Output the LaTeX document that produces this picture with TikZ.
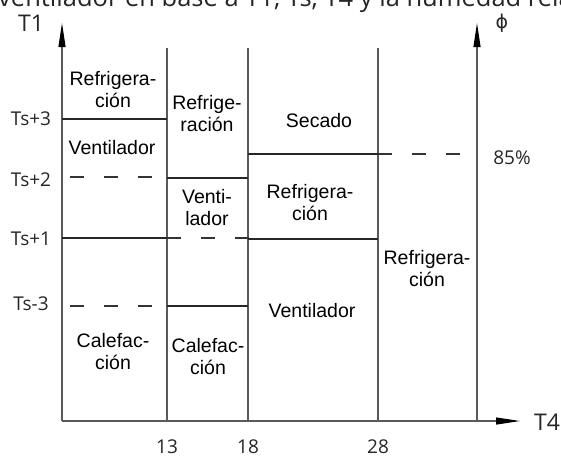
\documentclass[tikz,border=0pt]{standalone}
\usepackage{fontspec}
\setmainfont{Liberation Sans}
\newfontfamily\ejefont{Open Sans}
\newfontfamily\simbfont{DejaVu Sans}
\usetikzlibrary{arrows.meta}
\tikzset{
	zona/.style={align=center, inner sep=0pt, font=\fontsize{19.5}{22}\selectfont},
	eje/.style={inner sep=0pt, text=black!85, font=\ejefont\fontsize{19}{22}\selectfont},
	linea/.style={line width=1.1pt, draw=black!65},
	raya/.style={line width=1.1pt, draw=black!80, dash pattern=on 14pt off 20pt},
	flecha/.style={-{Triangle[length=24pt,width=7pt,black]}}
}
\begin{document}
\begin{tikzpicture}[x=1pt, y=-1pt]
		\useasboundingbox (0,0) rectangle (561,456);
		% Titel (abgeschnitten)
		\node [anchor=base west, inner sep=0pt, text=black!85, font=\ejefont\fontsize{25.5}{28}\selectfont] (titel) at (-2,6) {ventilador en base a T1, Ts, T4 y la humedad relativa};
		% Achsen
		\coordinate (ursprung) at (62,421);
		\coordinate (obenT) at (62,23);
		\coordinate (rechtsT) at (520,421);
		\coordinate (untenH) at (477,421);
		\coordinate (obenH) at (477,23);
		\draw [linea, flecha] (ursprung) -- (obenT);
		\draw [linea, flecha] (ursprung) -- (rechtsT);
		\draw [linea, flecha] (untenH) -- (obenH);
		\node [eje, font=\ejefont\fontsize{23}{26}\selectfont] (T1) at (31,23) {T1};
		\node [eje, font=\ejefont\fontsize{23}{26}\selectfont] (T4) at (547,422) {T4};
		\node [eje, font=\simbfont\fontsize{19}{22}\selectfont] (phi) at (502,23) {ϕ};
		% Spalten
		\draw [linea] (167,48) -- (167,421);
		\draw [linea] (248,48) -- (248,421);
		\draw [linea] (378,48) -- (378,421);
		\node [eje] (x13) at (167,447) {13};
		\node [eje] (x18) at (248,447) {18};
		\node [eje] (x28) at (378,447) {28};
		% Grenzen T1
		\node [eje] (ts3) at (31,119) {Ts+3};
		\node [eje] (ts2) at (31,180) {Ts+2};
		\node [eje] (ts1) at (31,239) {Ts+1};
		\node [eje] (tsm3) at (31,304) {Ts-3};
		\node [eje] (h85) at (512,158) {85\%};
		% Linien
		\draw [linea, draw=black!85] (62,119) -- (167,119);
		\draw [raya] (70,177) -- (152,177);
		\draw [linea, draw=black!85] (62,238) -- (167,238);
		\draw [raya] (70,306) -- (152,306);
		\draw [linea, draw=black!85] (167,178) -- (248,178);
		\draw [raya] (167,238) -- (249,238);
		\draw [linea, draw=black!85] (167,306) -- (248,306);
		\draw [linea, draw=black!85] (248,154) -- (378,154);
		\draw [raya] (378,154) -- (460,154);
		\draw [linea, draw=black!85] (248,239) -- (378,239);
		% Bereiche
		\node [zona] (kuehl1) at (113,90) {Refrigera-\\ción};
		\node [zona] (vent1) at (112,148) {Ventilador};
		\node [zona] (heiz1) at (113,352) {Calefac-\\ción};
		\node [zona] (kuehl2) at (207,114) {Refrige-\\ración};
		\node [zona] (vent2) at (207,208) {Venti-\\lador};
		\node [zona] (heiz2) at (208,357) {Calefac-\\ción};
		\node [zona] (trock3) at (319,121) {Secado};
		\node [zona] (kuehl3) at (310,203) {Refrigera-\\ción};
		\node [zona] (vent3) at (312,311) {Ventilador};
		\node [zona] (kuehl4) at (427,269) {Refrigera-\\ción};
\end{tikzpicture}
\end{document}
